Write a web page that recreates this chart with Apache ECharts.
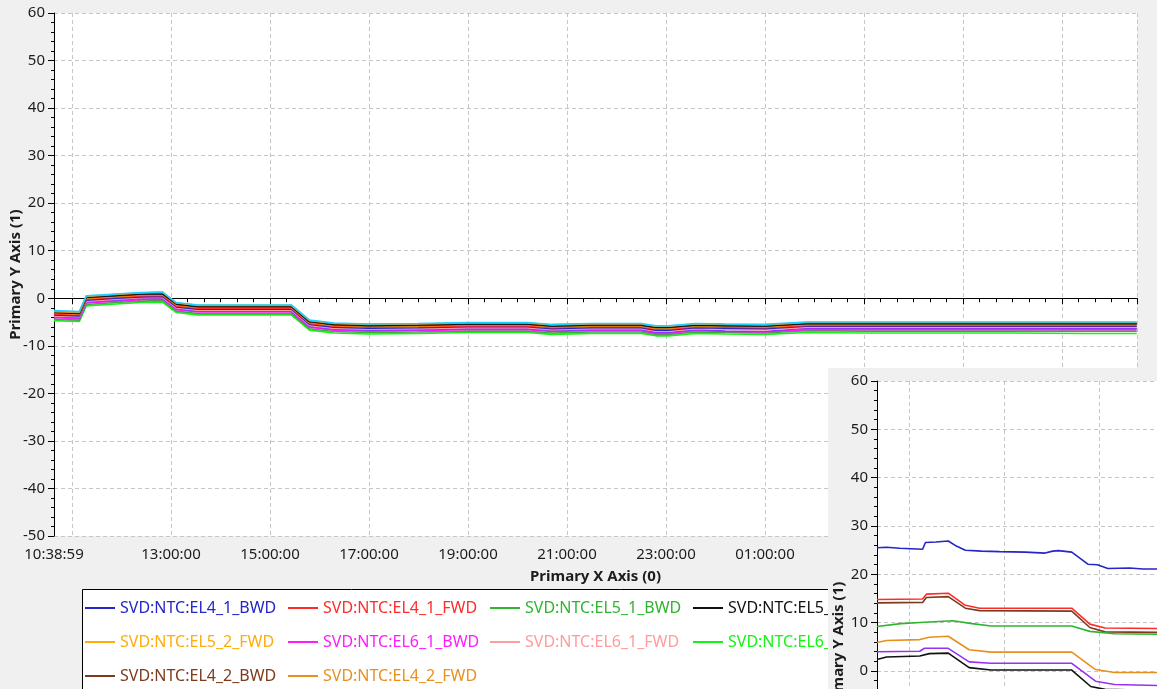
<!DOCTYPE html>
<html>
<head>
<meta charset="utf-8">
<title>SVD NTC temperatures</title>
<script src="https://cdn.jsdelivr.net/npm/echarts@6/dist/echarts.min.js"></script>
<style>
  html, body { margin: 0; padding: 0; background: #f0f0f0; }
  #chart { width: 1157px; height: 689px; }
</style>
</head>
<body>
<div id="chart"></div>
<script>
// ---- main trend: sample times (hours since midnight of day 1) ----
const hours = [10.65, 11.16, 11.3, 11.9, 12.4, 12.84, 13.12, 13.55, 14.5, 15.44, 15.81, 16.3, 17.0, 18.0, 19.0, 20.2, 20.7, 21.5, 22.5, 22.8, 23.05, 23.6, 24.2, 25.0, 25.85, 27.0, 28.5, 30.0, 31.5, 32.51];

// ---- main trend: temperature per sensor (degC) ----
const el6_2_fwd = [-2.6, -2.8, 0.5, 0.9, 1.2, 1.3, -0.9, -1.4, -1.4, -1.4, -4.6, -5.2, -5.4, -5.3, -5.1, -5.1, -5.5, -5.3, -5.3, -5.8, -5.8, -5.3, -5.4, -5.5, -5.0, -5.0, -5.0, -5.0, -5.0, -5.0];
const el4_2_fwd = [-2.8, -3.0, 0.4, 0.8, 1.1, 1.3, -1.0, -1.5, -1.5, -1.5, -4.7, -5.3, -5.5, -5.4, -5.2, -5.2, -5.6, -5.4, -5.4, -5.9, -5.9, -5.4, -5.5, -5.6, -5.1, -5.1, -5.1, -5.1, -5.1, -5.1];
const el5_1_fwd = [-3.0, -3.2, 0.2, 0.6, 0.9, 1.0, -1.2, -1.7, -1.7, -1.7, -4.9, -5.5, -5.7, -5.6, -5.4, -5.4, -5.8, -5.6, -5.6, -6.1, -6.1, -5.6, -5.7, -5.8, -5.3, -5.3, -5.3, -5.3, -5.3, -5.3];
const el4_2_bwd = [-3.0, -3.2, 0.1, 0.5, 0.8, 0.9, -1.3, -1.8, -1.8, -1.8, -5.0, -5.6, -5.8, -5.7, -5.5, -5.5, -5.9, -5.7, -5.7, -6.2, -6.2, -5.7, -5.8, -5.9, -5.4, -5.4, -5.4, -5.4, -5.4, -5.4];
const el5_2_fwd = [-3.1, -3.3, 0.0, 0.4, 0.7, 0.8, -1.4, -1.9, -1.9, -1.9, -5.1, -5.7, -5.9, -5.8, -5.6, -5.6, -6.0, -5.8, -5.8, -6.3, -6.3, -5.8, -5.9, -6.0, -5.5, -5.5, -5.5, -5.5, -5.5, -5.5];
const el4_1_fwd = [-3.3, -3.5, -0.2, 0.2, 0.5, 0.6, -1.6, -2.1, -2.1, -2.1, -5.3, -5.9, -6.1, -6.0, -5.8, -5.8, -6.2, -6.0, -6.0, -6.5, -6.5, -6.0, -6.1, -6.2, -5.7, -5.7, -5.7, -5.7, -5.7, -5.7];
const el4_1_bwd = [-3.5, -3.7, -0.4, 0.0, 0.3, 0.4, -1.8, -2.3, -2.3, -2.3, -5.5, -6.1, -6.3, -6.2, -6.0, -6.0, -6.4, -6.2, -6.2, -6.7, -6.7, -6.2, -6.3, -6.4, -5.9, -5.9, -5.9, -5.9, -5.9, -5.9];
const el6_1_fwd = [-3.7, -3.9, -0.6, -0.2, 0.1, 0.2, -2.0, -2.5, -2.5, -2.5, -5.7, -6.3, -6.5, -6.4, -6.2, -6.2, -6.6, -6.4, -6.4, -6.9, -6.9, -6.4, -6.5, -6.6, -6.1, -6.1, -6.1, -6.1, -6.1, -6.1];
const el5_2_bwd = [-3.9, -4.1, -0.8, -0.4, -0.1, 0.0, -2.2, -2.7, -2.7, -2.7, -5.9, -6.5, -6.7, -6.6, -6.4, -6.4, -6.8, -6.6, -6.6, -7.2, -7.2, -6.6, -6.9, -7.0, -6.3, -6.3, -6.3, -6.3, -6.3, -6.3];
const el6_1_bwd = [-4.1, -4.3, -1.0, -0.6, -0.3, -0.2, -2.4, -2.9, -2.9, -2.9, -6.1, -6.7, -6.9, -6.8, -6.6, -6.6, -7.0, -6.8, -6.8, -7.4, -7.4, -6.8, -7.0, -7.1, -6.6, -6.6, -6.6, -6.6, -6.6, -6.6];
const el5_1_bwd = [-4.4, -4.6, -1.3, -0.9, -0.6, -0.5, -2.7, -3.2, -3.2, -3.2, -6.4, -7.0, -7.2, -7.1, -6.9, -6.9, -7.3, -7.1, -7.1, -7.6, -7.6, -7.1, -7.2, -7.3, -6.8, -6.9, -6.9, -6.9, -6.9, -6.9];
const el6_2_bwd = [-4.7, -4.9, -1.6, -1.2, -0.9, -0.8, -3.0, -3.5, -3.5, -3.5, -6.7, -7.3, -7.5, -7.4, -7.2, -7.2, -7.6, -7.4, -7.4, -7.9, -7.9, -7.4, -7.5, -7.6, -7.2, -7.3, -7.3, -7.3, -7.4, -7.4];

// ---- detail panel: [hours from panel start, degC] ----
const insetEl4_1_bwd = [[0, 25.5], [0.1, 25.6], [0.24, 25.4], [0.36, 25.3], [0.48, 25.2], [0.51, 26.6], [0.62, 26.7], [0.75, 26.9], [0.84, 25.8], [0.93, 25.0], [1.1, 24.8], [1.29, 24.7], [1.56, 24.6], [1.77, 24.4], [1.85, 24.8], [1.91, 24.9], [2.05, 24.6], [2.22, 22.1], [2.32, 22.0], [2.43, 21.2], [2.66, 21.3], [2.8, 21.1], [2.95, 21.1]];
const insetEl4_1_fwd = [[0, 14.8], [0.48, 14.9], [0.52, 15.9], [0.75, 16.1], [0.93, 13.6], [1.08, 13.0], [2.05, 13.0], [2.24, 9.7], [2.4, 8.9], [2.95, 8.8]];
const insetEl4_2_bwd = [[0, 14.1], [0.48, 14.2], [0.52, 15.2], [0.75, 15.4], [0.93, 13.0], [1.08, 12.5], [2.05, 12.4], [2.24, 9.0], [2.4, 8.1], [2.95, 8.0]];
const insetEl5_1_bwd = [[0, 9.2], [0.25, 9.8], [0.5, 10.1], [0.8, 10.4], [1.0, 9.8], [1.2, 9.3], [2.05, 9.3], [2.24, 8.2], [2.5, 7.7], [2.95, 7.6]];
const insetEl4_2_fwd = [[0, 5.9], [0.1, 6.3], [0.45, 6.5], [0.55, 7.0], [0.75, 7.2], [0.97, 4.4], [1.2, 3.9], [2.05, 3.9], [2.3, 0.3], [2.5, -0.3], [2.95, -0.3]];
const insetEl5_2_bwd = [[0, 4.0], [0.45, 4.1], [0.5, 4.7], [0.75, 4.7], [0.97, 1.9], [1.2, 1.6], [2.05, 1.6], [2.3, -2.1], [2.5, -2.8], [2.95, -3.0]];
const insetEl5_1_fwd = [[0, 2.4], [0.1, 2.9], [0.45, 3.1], [0.55, 3.6], [0.75, 3.7], [0.97, 0.7], [1.2, 0.2], [2.05, 0.2], [2.25, -3.2], [2.4, -3.8], [2.95, -4.0]];

// ---- axis labels ----
const xStartHour = 10.6497;          // 10:38:59
const xEndHour = 32.515;
const xStartLabel = '10:38:59';
const xTickHours = [13, 15, 17, 19, 21, 23, 25, 27, 29, 31];
const xTickLabels = ['13:00:00', '15:00:00', '17:00:00', '19:00:00', '21:00:00', '23:00:00', '01:00:00', '03:00:00', '05:00:00', '07:00:00'];

// ---- sensor names and colours ----
const sensorNames = ['SVD:NTC:EL4_1_BWD', 'SVD:NTC:EL4_1_FWD', 'SVD:NTC:EL5_1_BWD', 'SVD:NTC:EL5_1_FWD', 'SVD:NTC:EL5_2_BWD', 'SVD:NTC:EL5_2_FWD', 'SVD:NTC:EL6_1_BWD', 'SVD:NTC:EL6_1_FWD', 'SVD:NTC:EL6_2_BWD', 'SVD:NTC:EL6_2_FWD', 'SVD:NTC:EL4_2_BWD', 'SVD:NTC:EL4_2_FWD'];
const sensorColors = ['#2525c8', '#ff2b2b', '#2fb52f', '#111111', '#9a30f5', '#ffad0a', '#ff1cff', '#ff9c9c', '#14f514', '#1ecfff', '#7d3b1c', '#e8901e'];

const mainValues = {
  'SVD:NTC:EL4_1_BWD': el4_1_bwd, 'SVD:NTC:EL4_1_FWD': el4_1_fwd,
  'SVD:NTC:EL5_1_BWD': el5_1_bwd, 'SVD:NTC:EL5_1_FWD': el5_1_fwd,
  'SVD:NTC:EL5_2_BWD': el5_2_bwd, 'SVD:NTC:EL5_2_FWD': el5_2_fwd,
  'SVD:NTC:EL6_1_BWD': el6_1_bwd, 'SVD:NTC:EL6_1_FWD': el6_1_fwd,
  'SVD:NTC:EL6_2_BWD': el6_2_bwd, 'SVD:NTC:EL6_2_FWD': el6_2_fwd,
  'SVD:NTC:EL4_2_BWD': el4_2_bwd, 'SVD:NTC:EL4_2_FWD': el4_2_fwd
};
// drawing order: lowest readings first so the warm sensors sit on top
const mainDrawOrder = ['SVD:NTC:EL6_2_BWD', 'SVD:NTC:EL5_1_BWD', 'SVD:NTC:EL6_1_BWD', 'SVD:NTC:EL5_2_BWD', 'SVD:NTC:EL6_1_FWD', 'SVD:NTC:EL4_1_BWD', 'SVD:NTC:EL4_1_FWD', 'SVD:NTC:EL5_2_FWD', 'SVD:NTC:EL4_2_BWD', 'SVD:NTC:EL5_1_FWD', 'SVD:NTC:EL4_2_FWD', 'SVD:NTC:EL6_2_FWD'];

const insetValues = [
  ['SVD:NTC:EL4_1_BWD', insetEl4_1_bwd], ['SVD:NTC:EL4_1_FWD', insetEl4_1_fwd],
  ['SVD:NTC:EL4_2_BWD', insetEl4_2_bwd], ['SVD:NTC:EL5_1_BWD', insetEl5_1_bwd],
  ['SVD:NTC:EL4_2_FWD', insetEl4_2_fwd], ['SVD:NTC:EL5_2_BWD', insetEl5_2_bwd],
  ['SVD:NTC:EL5_1_FWD', insetEl5_1_fwd]
];

const colorOf = {};
sensorNames.forEach((n, i) => { colorOf[n] = sensorColors[i]; });

const FONT = 'Noto Sans';
const TEXT = '#1c1c1c';
const GRIDLINE = { show: true, lineStyle: { color: '#c6c6c6', type: [4, 3], width: 1 } };

function valueYAxis(gridIndex, extra) {
  return Object.assign({
    type: 'value', gridIndex, min: -50, max: 60, interval: 10,
    axisLine: { show: true, lineStyle: { color: '#000', width: 1 } },
    axisTick: { show: true, inside: false, length: 6, lineStyle: { color: '#000' } },
    minorTick: { show: true, splitNumber: 5, length: 3, lineStyle: { color: '#000' } },
    axisLabel: { color: TEXT, fontFamily: FONT, fontSize: 15, margin: 9 },
    splitLine: GRIDLINE,
    name: 'Primary Y Axis (1)', nameLocation: 'middle', nameGap: 31, nameRotate: 90,
    nameMoveOverlap: false,
    nameTextStyle: { color: TEXT, fontFamily: FONT, fontSize: 15, fontWeight: 'bold' }
  }, extra || {});
}
function hiddenYAxis(gridIndex, extra) {
  return Object.assign({ type: 'value', gridIndex, min: -50, max: 60, show: false, splitLine: { show: false } }, extra || {});
}

const series = [];
mainDrawOrder.forEach(name => {
  const vals = mainValues[name];
  series.push({
    name, type: 'line', xAxisIndex: 0, yAxisIndex: 0, symbol: 'none',
    color: colorOf[name], lineStyle: { width: 1.6, color: colorOf[name] },
    data: hours.map((h, i) => [h, vals[i]]), animation: false
  });
});
insetValues.forEach(([name, pts]) => {
  series.push({
    name, type: 'line', xAxisIndex: 2, yAxisIndex: 2, symbol: 'none', zlevel: 1,
    color: colorOf[name], lineStyle: { width: 1.6, color: colorOf[name] },
    data: pts, animation: false
  });
});

// legend laid out as a table: one vertical legend per column
const legendColumns = [
  ['SVD:NTC:EL4_1_BWD', 'SVD:NTC:EL5_2_FWD', 'SVD:NTC:EL4_2_BWD'],
  ['SVD:NTC:EL4_1_FWD', 'SVD:NTC:EL6_1_BWD', 'SVD:NTC:EL4_2_FWD'],
  ['SVD:NTC:EL5_1_BWD', 'SVD:NTC:EL6_1_FWD'],
  ['SVD:NTC:EL5_1_FWD', 'SVD:NTC:EL6_2_BWD'],
  ['SVD:NTC:EL5_2_BWD', 'SVD:NTC:EL6_2_FWD']
];
const legendLefts = [85, 288, 490, 693, 896];
const legend = legendColumns.map((col, i) => ({
  orient: 'vertical', left: legendLefts[i], top: 598, padding: 0,
  itemGap: 14, itemWidth: 30, itemHeight: 2, icon: 'rect', selectedMode: false,
  textStyle: { fontFamily: FONT, fontSize: 16, lineHeight: 20 },
  data: col.map(n => ({ name: n, textStyle: { color: colorOf[n] } }))
}));

const insetUnitPx = 95;   // pixels per hour in the detail panel

const option = {
  backgroundColor: '#f0f0f0',
  animation: false,
  legend,
  grid: [
    { left: 54, top: 13, width: 1083, height: 523, show: true, backgroundColor: '#fff', borderWidth: 0, outerBoundsMode: 'none' },
    { left: 72, top: 13, width: 1065, height: 523, outerBoundsMode: 'none' },
    { left: 877, top: 381, width: 380, height: 531.7, show: true, backgroundColor: '#fff', borderWidth: 0, zlevel: 1, outerBoundsMode: 'none' },
    { left: 909, top: 381, width: 348, height: 531.7, zlevel: 1, outerBoundsMode: 'none' }
  ],
  graphic: [
    { type: 'rect', left: 82, top: 589, shape: { width: 1100, height: 200 },
      style: { fill: '#fff', stroke: '#000', lineWidth: 1 }, z: -1, zlevel: 0 },
    { type: 'rect', left: 828, top: 368, shape: { width: 400, height: 400 },
      style: { fill: '#f0f0f0' }, z: -1, zlevel: 1 }
  ],
  xAxis: [
    { // time axis carrying the data and the start label
      type: 'value', gridIndex: 0, min: xStartHour, max: xEndHour, interval: 100,
      axisLine: { show: true, lineStyle: { color: '#000', width: 1 } },
      axisTick: { show: false },
      splitLine: { show: false },
      axisLabel: { color: TEXT, fontFamily: FONT, fontSize: 15, margin: 11, showMaxLabel: false,
        formatter: () => xStartLabel },
      name: 'Primary X Axis (0)', nameLocation: 'middle', nameGap: 33, nameMoveOverlap: false,
      nameTextStyle: { color: TEXT, fontFamily: FONT, fontSize: 15, fontWeight: 'bold' }
    },
    { // whole-hour ticks, grid lines and clock labels
      type: 'value', gridIndex: 1, min: 11, max: xEndHour, interval: 2,
      axisLine: { show: false },
      axisTick: { show: true, length: 6, lineStyle: { color: '#000' } },
      minorTick: { show: true, splitNumber: 6, length: 4, lineStyle: { color: '#000' } },
      splitLine: GRIDLINE,
      axisLabel: { color: TEXT, fontFamily: FONT, fontSize: 15, margin: 11,
        formatter: v => {
          const k = xTickHours.indexOf(Math.round(v * 1000) / 1000);
          return k >= 0 ? xTickLabels[k] : '';
        } }
    },
    { type: 'value', gridIndex: 2, min: 0, max: 380 / insetUnitPx, show: false, splitLine: { show: false }, zlevel: 1 },
    { type: 'value', gridIndex: 3, min: 0, max: 348 / insetUnitPx, interval: 1, zlevel: 1,
      axisLine: { show: false }, axisTick: { show: false }, axisLabel: { show: false },
      splitLine: GRIDLINE }
  ],
  yAxis: [
    valueYAxis(0),
    hiddenYAxis(1),
    valueYAxis(2, { zlevel: 1 }),
    hiddenYAxis(3, { zlevel: 1 })
  ],
  series
};

const chart = echarts.init(document.getElementById('chart'));
chart.setOption(option);
</script>
</body>
</html>
